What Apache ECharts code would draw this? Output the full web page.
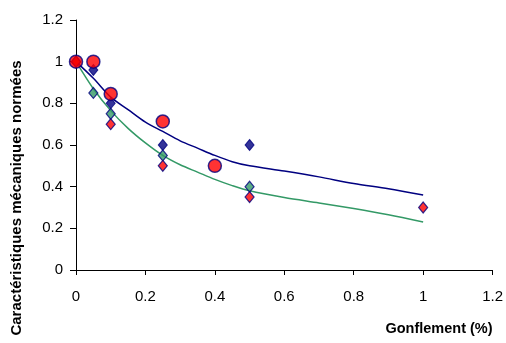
<!DOCTYPE html>
<html>
<head>
<meta charset="utf-8">
<script src="https://cdn.jsdelivr.net/npm/echarts@6/dist/echarts.min.js"></script>
<style>html,body{margin:0;padding:0;background:#fff}#c{width:506px;height:343px}</style>
</head>
<body>
<div id="c"></div>
<script>
// Tick values
const xTicks = [0, 0.2, 0.4, 0.6, 0.8, 1, 1.2];
const yTicks = [0, 0.2, 0.4, 0.6, 0.8, 1, 1.2];

// Trend curves (x, y)
const trendX = [0, 0.05, 0.1, 0.15, 0.2, 0.25, 0.3, 0.35, 0.4, 0.45, 0.5, 0.6, 0.7, 0.8, 0.9, 1.0];
const trendBlue = [1, 0.92, 0.83, 0.77, 0.71, 0.665, 0.62, 0.585, 0.55, 0.52, 0.50, 0.475, 0.447, 0.415, 0.39, 0.36];
const trendGreen = [1, 0.87, 0.765, 0.68, 0.61, 0.55, 0.505, 0.47, 0.435, 0.405, 0.38, 0.348, 0.322, 0.295, 0.265, 0.23];

// Measured points
const navyX = [0, 0.05, 0.1, 0.25, 0.5];
const navyY = [1, 0.96, 0.8, 0.6, 0.6];
const greenX = [0, 0.05, 0.1, 0.25, 0.5];
const greenY = [1, 0.85, 0.75, 0.55, 0.4];
const redDiaX = [0, 0.1, 0.25, 0.5, 1];
const redDiaY = [1, 0.7, 0.5, 0.35, 0.3];
const circX = [0, 0.05, 0.1, 0.25, 0.4];
const circY = [1, 1, 0.845, 0.713, 0.5];

const zip = (a, b) => a.map((v, i) => [v, b[i]]);
const fmt = v => String(parseFloat(v.toFixed(1)));
const FONT = '"Liberation Sans", Arial, sans-serif';

const chart = echarts.init(document.getElementById('c'), null, {renderer: 'canvas'});
chart.setOption({
  animation: false,
  backgroundColor: '#fff',
  grid: {left: 76, right: 11, top: 20, bottom: 73, containLabel: false},
  xAxis: {
    type: 'value', min: 0, max: 1.2, interval: 0.2,
    name: 'Gonflement (%)', nameLocation: 'end', nameGap: 0,
    nameTextStyle: {fontFamily: FONT, fontWeight: 'bold', fontSize: 14.5, color: '#000',
      align: 'right', verticalAlign: 'top', padding: [51, 0, 0, 0]},
    axisLine: {show: true, onZero: false, lineStyle: {color: '#000', width: 1}},
    axisTick: {show: true, inside: false, length: 5, lineStyle: {color: '#000'}},
    axisLabel: {fontFamily: FONT, fontSize: 15, color: '#000', margin: 19, formatter: fmt},
    splitLine: {show: false}
  },
  yAxis: {
    type: 'value', min: 0, max: 1.2, interval: 0.2,
    name: 'Caractéristiques mécaniques normées', nameLocation: 'middle', nameGap: 52,
    nameTextStyle: {fontFamily: FONT, fontWeight: 'bold', fontSize: 15, color: '#000', padding: [0, 106, 0, 0]},
    axisLine: {show: true, onZero: false, lineStyle: {color: '#000', width: 1}},
    axisTick: {show: true, inside: false, length: 6, lineStyle: {color: '#000'}},
    axisLabel: {fontFamily: FONT, fontSize: 15, color: '#000', margin: 13, formatter: fmt},
    splitLine: {show: false}
  },
  series: [
    {type: 'line', data: zip(trendX, trendBlue), smooth: 0.3, showSymbol: false, symbol: 'none',
      lineStyle: {color: '#000080', width: 1.5}, z: 1},
    {type: 'line', data: zip(trendX, trendGreen), smooth: 0.3, showSymbol: false, symbol: 'none',
      lineStyle: {color: '#339966', width: 1.5}, z: 1},
    {type: 'scatter', data: zip(navyX, navyY), symbol: 'diamond', symbolSize: [9, 11],
      itemStyle: {color: '#000080', borderColor: '#000080', borderWidth: 1}, z: 2},
    {type: 'scatter', data: zip(greenX, greenY), symbol: 'diamond', symbolSize: [9, 11],
      itemStyle: {color: '#339966', borderColor: '#000080', borderWidth: 1.2}, z: 3},
    {type: 'scatter', data: zip(redDiaX, redDiaY), symbol: 'diamond', symbolSize: [9, 11],
      itemStyle: {color: '#ff0000', borderColor: '#000080', borderWidth: 1.2}, z: 4},
    {type: 'scatter', data: zip(circX, circY), symbol: 'circle', symbolSize: 13,
      itemStyle: {color: '#ff0000', borderColor: '#000080', borderWidth: 1.5}, z: 5}
  ]
});
</script>
</body>
</html>
